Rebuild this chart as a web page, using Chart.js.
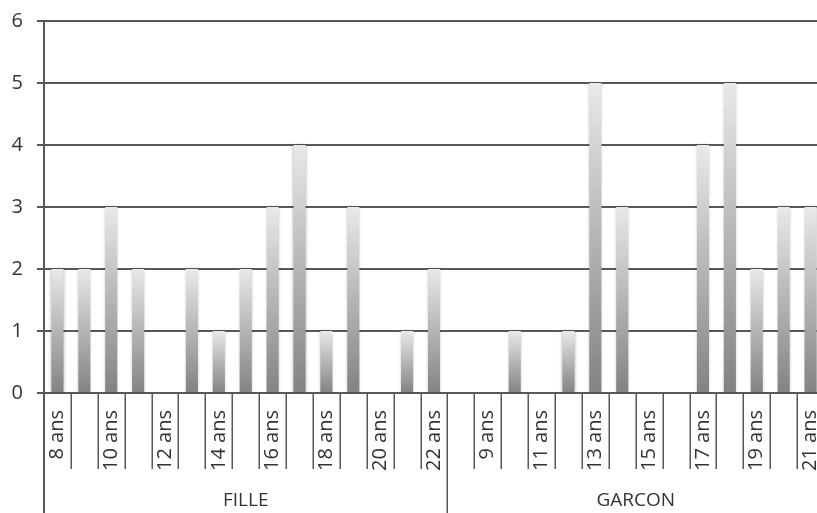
<!DOCTYPE html>
<html>
<head>
<meta charset="utf-8">
<script src="https://cdn.jsdelivr.net/npm/chart.js@4/dist/chart.umd.min.js"></script>
<style>
  html, body { margin: 0; padding: 0; background: #fff; overflow: hidden; }
  #wrap { width: 817px; height: 513px; overflow: hidden; }
  canvas { display: block; }
</style>
</head>
<body>
<div id="wrap"><canvas id="c" width="824" height="513"></canvas></div>
<script>
// Age categories per group
const filleAges = ['8 ans','9 ans','10 ans','11 ans','12 ans','13 ans','14 ans','15 ans','16 ans','17 ans','18 ans','19 ans','20 ans','21 ans','22 ans'];
const garconAges = ['8 ans','9 ans','10 ans','11 ans','12 ans','13 ans','14 ans','15 ans','16 ans','17 ans','18 ans','19 ans','20 ans','21 ans'];
// Counts per age
const filleCounts = [2, 2, 3, 2, 0, 2, 1, 2, 3, 4, 1, 3, 0, 1, 2];
const garconCounts = [0, 0, 1, 0, 1, 5, 3, 0, 0, 4, 5, 2, 3, 3];
const groupNames = ['FILLE', 'GARCON'];
const yTicks = [0, 1, 2, 3, 4, 5, 6];

const labels = filleAges.concat(garconAges);
const values = filleCounts.concat(garconCounts);
const groupSizes = [filleAges.length, garconAges.length];

const FONT = '"Open Sans", "Liberation Sans", sans-serif';
const TEXT = '#333333';
const LINE = '#585858';

function barFill(ctx) {
  const chart = ctx.chart;
  if (ctx.type !== 'data' || !chart.chartArea) return '#b8b8b8';
  const y = chart.scales.y;
  const top = y.getPixelForValue(ctx.parsed.y);
  const bottom = y.getPixelForValue(0);
  if (!(bottom - top > 1)) return '#b8b8b8';
  const g = chart.ctx.createLinearGradient(0, top, 0, bottom);
  g.addColorStop(0, '#e9e9eb');
  g.addColorStop(0.45, '#bababc');
  g.addColorStop(1, '#828282');
  return g;
}

// Soft edges on the bars
const softBars = {
  id: 'softBars',
  beforeDatasetsDraw(chart) {
    const c = chart.ctx;
    c.save();
    c.shadowColor = 'rgba(0,0,0,0.28)';
    c.shadowBlur = 3;
  },
  afterDatasetsDraw(chart) {
    chart.ctx.restore();
  }
};

// Category separators, group separators and group names below the axis
const groupAxis = {
  id: 'groupAxis',
  afterDraw(chart) {
    const c = chart.ctx;
    const area = chart.chartArea;
    const n = labels.length;
    const w = (area.right - area.left) / n;
    const base = area.bottom;
    c.save();
    c.strokeStyle = LINE;
    c.lineWidth = 1.5;
    const groupEdges = [0];
    let acc = 0;
    groupSizes.forEach(s => { acc += s; groupEdges.push(acc); });
    for (let i = 0; i <= n; i++) {
      const px = Math.round(area.left + i * w) + 0.25;
      const isGroup = groupEdges.includes(i);
      c.beginPath();
      c.moveTo(px, base);
      c.lineTo(px, isGroup ? chart.height : base + 76);
      c.stroke();
    }
    // y axis line reaching the bottom of the chart
    c.lineWidth = 2;
    c.beginPath();
    c.moveTo(area.left, area.top - 1);
    c.lineTo(area.left, chart.height);
    c.stroke();

    c.fillStyle = TEXT;
    c.font = '19px ' + FONT;
    c.textAlign = 'center';
    c.textBaseline = 'middle';
    for (let g = 0; g < groupNames.length; g++) {
      const x0 = area.left + groupEdges[g] * w;
      const x1 = area.left + groupEdges[g + 1] * w;
      c.fillText(groupNames[g], (x0 + x1) / 2, 501);
    }
    c.restore();
  }
};

new Chart(document.getElementById('c'), {
  type: 'bar',
  data: {
    labels: labels,
    datasets: [{
      data: values,
      backgroundColor: barFill,
      borderWidth: 0,
      barPercentage: 0.45,
      categoryPercentage: 1
    }]
  },
  options: {
    responsive: false,
    animation: false,
    layout: { padding: 0 },
    plugins: { legend: { display: false }, tooltip: { enabled: false } },
    scales: {
      x: {
        grid: { display: false, drawTicks: false },
        border: { display: false },
        ticks: {
          autoSkip: false,
          minRotation: 90,
          maxRotation: 90,
          padding: 17,
          color: TEXT,
          font: { family: FONT, size: 20 },
          callback: (v, i) => (i % 2 === 0 ? labels[i] : '')
        },
        afterFit: (s) => { s.height = 120; s.paddingLeft = 0; s.paddingRight = 0; }
      },
      y: {
        min: 0,
        max: 6,
        afterBuildTicks: (s) => { s.ticks = yTicks.map(v => ({ value: v })); },
        grid: { color: LINE, lineWidth: 2, tickLength: 7, drawTicks: true },
        border: { display: true, color: LINE, width: 2 },
        ticks: {
          padding: 14,
          color: TEXT,
          font: { family: FONT, size: 20 }
        },
        afterFit: (s) => { s.width = 44; s.paddingTop = 21; s.paddingBottom = 0; }
      }
    }
  },
  plugins: [softBars, groupAxis]
});
</script>
</body>
</html>
